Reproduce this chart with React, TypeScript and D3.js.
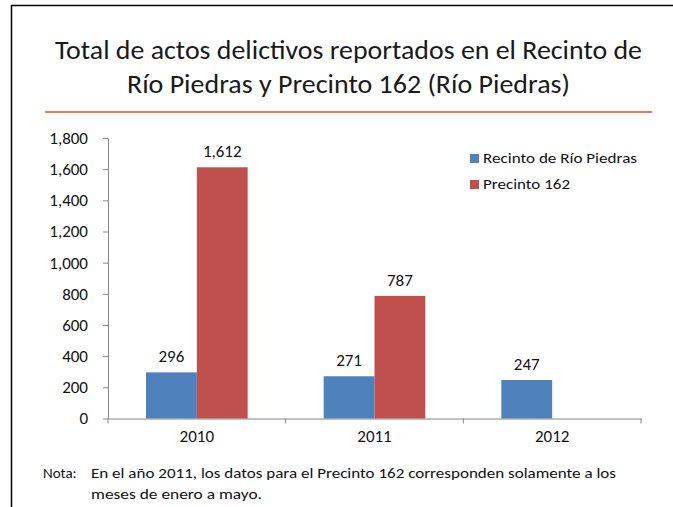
import React, { useRef, useEffect } from 'react';
import * as d3 from 'd3';

const years = ['2010', '2011', '2012'];
const seriesNames = ['Recinto de Río Piedras', 'Precinto 162'];
const recinto = [296, 271, 247];
const precinto = [1612, 787, null];
const yTicks = [0, 200, 400, 600, 800, 1000, 1200, 1400, 1600, 1800];
const colors = ['#4f81bd', '#c0504d'];

const W = 673, H = 507;

function App() {
    const ref = useRef<SVGSVGElement>(null);
    useEffect(() => {
        const svg = d3.select(ref.current);
        svg.selectAll('*').remove();
        const font = 'Carlito, "Open Sans", "Noto Sans", sans-serif';
        const lbl = 17;

        // frame (top + left only visible)
        svg.append('line').attr('x1', 11).attr('x2', W).attr('y1', 5.5).attr('y2', 5.5)
            .attr('stroke', '#000').attr('stroke-width', 1.5);
        svg.append('line').attr('x1', 11.5).attr('x2', 11.5).attr('y1', 5).attr('y2', H)
            .attr('stroke', '#000').attr('stroke-width', 1.5);

        const title = svg.append('text').attr('text-anchor', 'middle')
            .attr('font-family', font).attr('font-size', 27).attr('fill', '#1a1a1a');
        title.append('tspan').attr('x', 348.5).attr('y', 59).attr('textLength', 587)
            .attr('lengthAdjust', 'spacingAndGlyphs').text('Total de actos delictivos reportados en el Recinto de');
        title.append('tspan').attr('x', 348.5).attr('y', 93).attr('textLength', 443)
            .attr('lengthAdjust', 'spacingAndGlyphs').text('Río Piedras y Precinto 162 (Río Piedras)');

        svg.append('line').attr('x1', 45).attr('x2', 652).attr('y1', 112).attr('y2', 112)
            .attr('stroke', '#e3501e').attr('stroke-width', 1.5);

        const left = 108, right = 641, top = 138, bottom = 418.5;
        const x = d3.scaleBand().domain(years).range([left, right]).paddingInner(0).paddingOuter(0);
        const x1 = d3.scaleBand().domain(seriesNames).range([38, x.bandwidth() - 38]);
        const y = d3.scaleLinear().domain([0, 1800]).range([bottom, top]);

        // y axis
        const ya = svg.append('g').attr('transform', `translate(${left},0)`)
            .call(d3.axisLeft(y).tickValues(yTicks).tickSize(5).tickSizeOuter(0).tickFormat(d3.format(',')));
        ya.select('.domain').attr('stroke', '#868686');
        ya.selectAll('.tick line').attr('stroke', '#868686');
        ya.selectAll('.tick text').attr('font-family', font).attr('font-size', lbl).attr('fill', '#111').attr('x', -20);

        // x axis
        const xa = svg.append('g').attr('transform', `translate(0,${bottom})`)
            .call(d3.axisBottom(x).tickSize(0).tickSizeOuter(0));
        xa.select('.domain').attr('stroke', '#868686');
        xa.selectAll('.tick text').attr('font-family', font).attr('font-size', lbl).attr('fill', '#111').attr('dy', 20);
        const edges = [...years.map(d => x(d) as number), right];
        xa.selectAll('.sep').data(edges).enter().append('line')
            .attr('x1', d => d).attr('x2', d => d).attr('y1', 0).attr('y2', 5).attr('stroke', '#868686');

        const data = years.map((yr, i) => ({ yr, vals: [recinto[i], precinto[i]] }));
        const g = svg.append('g');
        data.forEach(d => {
            d.vals.forEach((v, j) => {
                if (v == null) return;
                const bx = (x(d.yr) as number) + (x1(seriesNames[j]) as number);
                g.append('rect').attr('x', bx).attr('y', y(v)).attr('width', x1.bandwidth())
                    .attr('height', bottom - y(v)).attr('fill', colors[j]);
                g.append('text').attr('x', bx + x1.bandwidth() / 2).attr('y', y(v) - 10)
                    .attr('text-anchor', 'middle').attr('font-family', font).attr('font-size', lbl)
                    .attr('fill', '#111').text(d3.format(',')(v));
            });
        });

        // legend
        const legendLen = [154, 87];
        const lg = svg.append('g').attr('transform', 'translate(470,153)');
        seriesNames.forEach((n, i) => {
            lg.append('rect').attr('x', 0).attr('y', i * 26 + 1).attr('width', 9).attr('height', 9).attr('fill', colors[i]);
            lg.append('text').attr('x', 13).attr('y', i * 26 + 10).attr('font-family', font).attr('font-size', 15)
                .attr('textLength', legendLen[i]).attr('lengthAdjust', 'spacingAndGlyphs')
                .attr('fill', '#111').text(n);
        });

        // note
        svg.append('text').attr('x', 43).attr('y', 478).attr('font-family', font).attr('font-size', 15)
            .attr('fill', '#111').text('Nota:');
        svg.append('text').attr('x', 91).attr('y', 478).attr('font-family', font).attr('font-size', 15)
            .attr('textLength', 525).attr('lengthAdjust', 'spacingAndGlyphs').attr('fill', '#111')
            .text('En el año 2011, los datos para el Precinto 162 corresponden solamente a los');
        svg.append('text').attr('x', 91).attr('y', 499).attr('font-family', font).attr('font-size', 15)
            .attr('textLength', 171).attr('lengthAdjust', 'spacingAndGlyphs').attr('fill', '#111')
            .text('meses de enero a mayo.');
    }, []);
    return (
        <svg ref={ref} width={W} height={H} style={{ position: 'absolute', left: 0, top: 0, background: '#fff' }}></svg>
    );
}

export default App;
